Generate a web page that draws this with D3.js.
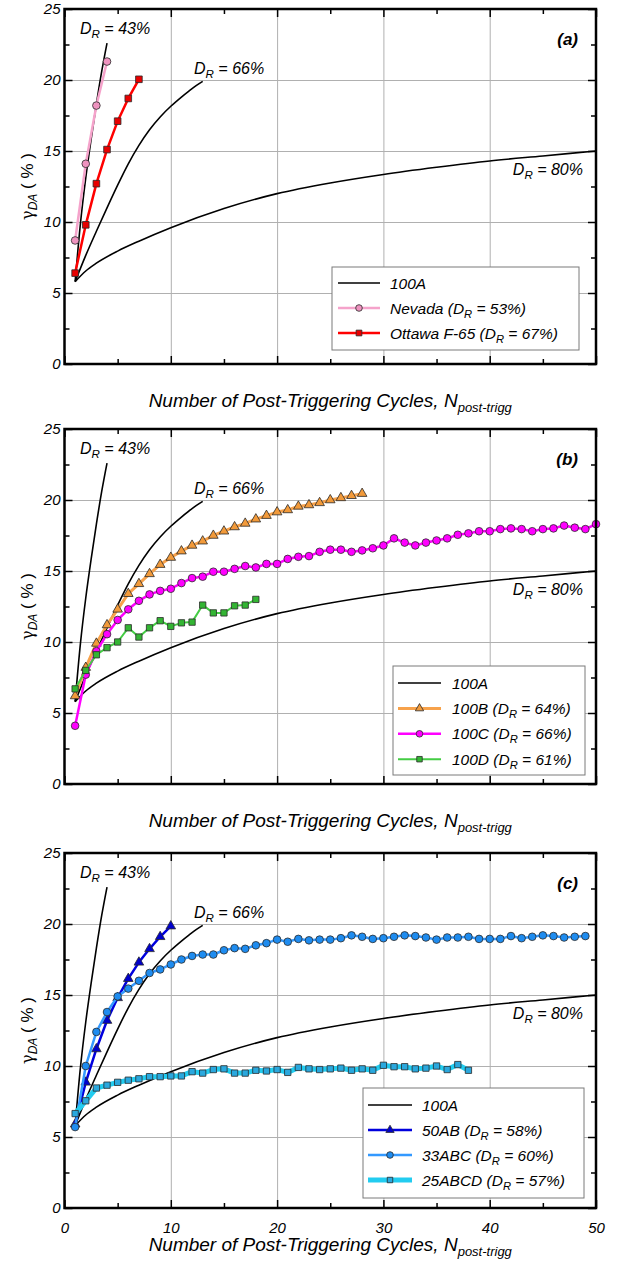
<!DOCTYPE html>
<html>
<head>
<meta charset="utf-8">
<script src="https://cdn.jsdelivr.net/npm/d3@7"></script>
<style>
  body { margin: 0; background: #fff; }
  svg { display: block; font-family: "Liberation Sans", Arial, sans-serif; }
</style>
</head>
<body>
<svg id="chart" width="618" height="1263"></svg>
<script>
// reference curves (black): cycles and gamma_DA (%)
var ref43N = [1, 1.5, 2, 2.5, 3, 3.5, 4];
var ref43G = [5.8, 9.9, 13.1, 15.8, 18.3, 20.6, 22.6];
var ref66N = [1, 2, 3, 4, 5, 6, 7, 8, 9, 10, 11, 12, 13];
var ref66G = [5.8, 7.65, 9.35, 11.0, 12.6, 14.1, 15.4, 16.5, 17.4, 18.15, 18.8, 19.4, 19.9];
var ref80N = [1, 2, 3, 5, 7, 10, 15, 20, 25, 30, 35, 40, 45, 50];
var ref80G = [5.8, 6.55, 7.1, 7.95, 8.65, 9.6, 10.95, 12.0, 12.75, 13.35, 13.85, 14.3, 14.65, 15.0];

// panel (a)
var nevadaG = [8.7, 14.1, 18.2, 21.3];
var ottawaG = [6.4, 9.8, 12.7, 15.1, 17.1, 18.7, 20.05];

// panel (b)
var g100B = [6.2, 8.2, 9.9, 11.2, 12.3, 13.4, 14.1, 14.8, 15.45, 15.95,
             16.4, 16.8, 17.1, 17.5, 17.8, 18.1, 18.35, 18.65, 18.9, 19.15,
             19.3, 19.55, 19.65, 19.8, 20.0, 20.15, 20.3, 20.45];
var g100C = [4.1, 7.7, 9.35, 10.55, 11.55, 12.3, 12.9, 13.35, 13.6, 13.75,
             14.15, 14.5, 14.6, 14.95, 14.95, 15.15, 15.35, 15.25, 15.5, 15.5,
             15.85, 16.0, 16.05, 16.35, 16.5, 16.5, 16.35, 16.45, 16.6, 16.8,
             17.3, 17.0, 16.8, 17.0, 17.15, 17.3, 17.55, 17.65, 17.8, 17.8,
             17.95, 18.0, 17.95, 17.8, 17.95, 18.0, 18.2, 18.05, 17.95, 18.3];
var g100D = [6.7, 8.0, 9.1, 9.6, 10.0, 11.0, 10.35, 11.0, 11.5, 11.1,
             11.35, 11.4, 12.6, 12.05, 12.05, 12.55, 12.6, 13.0];

// panel (c)
var g50AB = [5.9, 8.85, 11.2, 13.2, 14.8, 16.15, 17.3, 18.25, 19.1, 19.85];
var g33ABC = [5.7, 10.0, 12.4, 13.8, 14.9, 15.45, 16.0, 16.55, 16.8, 17.15,
              17.5, 17.75, 17.85, 17.85, 18.15, 18.3, 18.25, 18.5, 18.65, 18.9,
              18.75, 18.95, 18.85, 18.9, 18.9, 19.0, 19.2, 19.1, 18.95, 19.0,
              19.1, 19.2, 19.15, 19.05, 18.9, 19.05, 19.05, 19.1, 18.95, 18.95,
              18.95, 19.15, 19.0, 19.1, 19.2, 19.15, 19.05, 19.1, 19.15];
var g25ABCD = [6.65, 7.55, 8.45, 8.65, 8.85, 9.0, 9.1, 9.25, 9.25, 9.3,
               9.3, 9.6, 9.5, 9.75, 9.8, 9.5, 9.5, 9.7, 9.65, 9.75,
               9.55, 9.9, 9.8, 9.75, 9.8, 9.85, 9.7, 9.8, 9.7, 10.05,
               9.95, 9.95, 9.8, 9.85, 10.0, 9.75, 10.1, 9.7];

var xTicks = [0, 10, 20, 30, 40, 50];
var yTicks = [0, 5, 10, 15, 20, 25];

// cycle number is the position in the series (1, 2, 3, ...)
function pts(vals) { return vals.map((v, i) => [i + 1, v]); }
function refPts(ns, gs) { return ns.map((n, i) => [n, gs[i]]); }

var svg = d3.select("#chart");
var left = 64.5, right = 596, plotH = 355;
var x = d3.scaleLinear().domain([0, 50]).range([left, right]);

function sub(text, pre, s, post) {
  text.append("tspan").text(pre);
  text.append("tspan").attr("dy", 4).attr("font-size", "0.72em").text(s);
  text.append("tspan").attr("dy", -4).text(post);
  return text;
}

function drawPanel(p) {
  var top = p.top, bottom = top + plotH;
  var y = d3.scaleLinear().domain([0, 25]).range([bottom, top]);
  var g = svg.append("g");

  // grid
  g.append("g").attr("transform", "translate(0," + bottom + ")")
    .call(d3.axisBottom(x).tickValues([10, 20, 30, 40]).tickSize(-plotH).tickFormat(""))
    .call(a => a.select(".domain").remove())
    .selectAll("line").attr("stroke", "#b0b0b0").attr("stroke-width", 1);
  g.append("g").attr("transform", "translate(" + left + ",0)")
    .call(d3.axisLeft(y).tickValues([5, 10, 15, 20]).tickSize(-(right - left)).tickFormat(""))
    .call(a => a.select(".domain").remove())
    .selectAll("line").attr("stroke", "#b0b0b0").attr("stroke-width", 1);

  var line = d3.line().x(d => x(d[0])).y(d => y(d[1]));
  var smooth = d3.line().x(d => x(d[0])).y(d => y(d[1])).curve(d3.curveMonotoneX);

  // black reference curves
  [refPts(ref43N, ref43G), refPts(ref66N, ref66G), refPts(ref80N, ref80G)].forEach(c => {
    g.append("path").datum(c).attr("d", smooth)
      .attr("fill", "none").attr("stroke", "#000").attr("stroke-width", 1.6);
  });

  // series
  p.series.forEach(s => {
    var data = pts(s.values);
    g.append("path").datum(data).attr("d", line)
      .attr("fill", "none").attr("stroke", s.line).attr("stroke-width", s.width)
      .attr("stroke-linejoin", "round");
    g.append("g").selectAll("path").data(data).join("path")
      .attr("transform", d => "translate(" + x(d[0]) + "," + y(d[1]) + ")")
      .attr("d", d3.symbol().type(s.symbol).size(s.size))
      .attr("fill", s.fill).attr("stroke", "#2a2a2a").attr("stroke-width", 0.8);
  });

  // frame and inward ticks
  var minorX = [5, 15, 25, 35, 45], minorY = [2.5, 7.5, 12.5, 17.5, 22.5];
  var bx = g.append("g").attr("transform", "translate(0," + bottom + ")")
    .call(d3.axisBottom(x).tickValues(xTicks).tickSizeInner(-8).tickSizeOuter(0).tickPadding(14)
      .tickFormat(p.xLabels ? d3.format("d") : ""));
  g.append("g").attr("transform", "translate(0," + bottom + ")")
    .call(d3.axisBottom(x).tickValues(minorX).tickSizeInner(-5).tickSizeOuter(0).tickFormat(""));
  g.append("g").attr("transform", "translate(0," + top + ")")
    .call(d3.axisTop(x).tickValues(xTicks).tickSizeInner(-8).tickSizeOuter(0).tickFormat(""));
  g.append("g").attr("transform", "translate(0," + top + ")")
    .call(d3.axisTop(x).tickValues(minorX).tickSizeInner(-5).tickSizeOuter(0).tickFormat(""));
  var ly = g.append("g").attr("transform", "translate(" + left + ",0)")
    .call(d3.axisLeft(y).tickValues(yTicks).tickSizeInner(-8).tickSizeOuter(0).tickPadding(4));
  g.append("g").attr("transform", "translate(" + left + ",0)")
    .call(d3.axisLeft(y).tickValues(minorY).tickSizeInner(-5).tickSizeOuter(0).tickFormat(""));
  g.append("g").attr("transform", "translate(" + right + ",0)")
    .call(d3.axisRight(y).tickValues(yTicks).tickSizeInner(-8).tickSizeOuter(0).tickFormat(""));
  g.append("g").attr("transform", "translate(" + right + ",0)")
    .call(d3.axisRight(y).tickValues(minorY).tickSizeInner(-5).tickSizeOuter(0).tickFormat(""));
  g.selectAll(".domain").remove();
  g.selectAll(".tick line").filter(function () { return !this.getAttribute("stroke") || this.getAttribute("stroke") === "currentColor"; })
    .attr("stroke", "#000").attr("stroke-width", 1.5);
  [bx, ly].forEach(a => a.selectAll("text")
    .attr("font-family", "Liberation Sans, Arial, sans-serif")
    .attr("font-size", 15).attr("font-style", "italic").attr("fill", "#000"));
  g.append("rect").attr("x", left).attr("y", top).attr("width", right - left).attr("height", plotH)
    .attr("fill", "none").attr("stroke", "#000").attr("stroke-width", 2.5);

  // curve labels
  sub(g.append("text").attr("x", 80).attr("y", top + 25), "D", "R", " = 43%")
    .attr("font-size", 16).attr("font-style", "italic");
  sub(g.append("text").attr("x", 194).attr("y", top + 65), "D", "R", " = 66%")
    .attr("font-size", 16).attr("font-style", "italic");
  sub(g.append("text").attr("x", 583).attr("y", top + 166).attr("text-anchor", "end"), "D", "R", " = 80%")
    .attr("font-size", 16).attr("font-style", "italic");
  g.append("text").attr("x", 578).attr("y", top + 36).attr("text-anchor", "end")
    .attr("font-size", 17).attr("font-weight", "bold").attr("font-style", "italic").text(p.label);

  // axis titles
  var yl = g.append("text").attr("transform", "translate(33," + (top + plotH / 2) + ") rotate(-90)")
    .attr("text-anchor", "middle").attr("font-size", 17);
  yl.append("tspan").attr("font-family", "DejaVu Serif, serif").attr("font-size", 16).text("γ");
  yl.append("tspan").attr("dy", 4).attr("font-size", 12).attr("font-style", "italic").text("DA");
  yl.append("tspan").attr("dy", -4).text(" ( % )");
  var xl = g.append("text").attr("x", (left + right) / 2).attr("y", bottom + 43)
    .attr("text-anchor", "middle").attr("font-size", 19).attr("font-style", "italic");
  xl.append("tspan").text("Number of Post-Triggering Cycles, N");
  xl.append("tspan").attr("dy", 5).attr("font-size", 13).text("post-trigg");

  // legend
  var L = p.legend;
  var lg = g.append("g");
  lg.append("rect").attr("x", L.x).attr("y", L.y).attr("width", L.w).attr("height", L.h)
    .attr("fill", "#fff").attr("stroke", "#7a7a7a").attr("stroke-width", 1);
  var rows = [{ name: "100A", line: "#000", width: 1.6 }].concat(p.series);
  rows.forEach((r, i) => {
    var ry = L.y + L.first + i * L.step;
    lg.append("line").attr("x1", L.x1).attr("x2", L.x2).attr("y1", ry).attr("y2", ry)
      .attr("stroke", r.line).attr("stroke-width", r.width);
    if (r.symbol) {
      lg.append("path").attr("transform", "translate(" + (L.x1 + L.x2) / 2 + "," + ry + ")")
        .attr("d", d3.symbol().type(r.symbol).size(r.size * 0.75))
        .attr("fill", r.fill).attr("stroke", "#2a2a2a").attr("stroke-width", 0.8);
    }
    var t = lg.append("text").attr("x", L.tx).attr("y", ry + 5.5)
      .attr("font-size", 15.5).attr("font-style", "italic");
    if (r.dr) sub(t, r.name + " (D", "R", " = " + r.dr + ")");
    else t.text(r.name);
  });
}

drawPanel({
  top: 9, label: "(a)", xLabels: false,
  series: [
    { name: "Nevada", dr: "53%", values: nevadaG, line: "#f5a3cb", width: 2.5, symbol: d3.symbolCircle, size: 46, fill: "#ee93bf" },
    { name: "Ottawa F-65", dr: "67%", values: ottawaG, line: "#ff0000", width: 2.5, symbol: d3.symbolSquare, size: 44, fill: "#e80000" }
  ],
  legend: { x: 332, y: 267, w: 247, h: 83, first: 16, step: 25, x1: 338, x2: 380, tx: 390 }
});

drawPanel({
  top: 429, label: "(b)", xLabels: false,
  series: [
    { name: "100B", dr: "64%", values: g100B, line: "#f7a24b", width: 3, symbol: d3.symbolTriangle, size: 40, fill: "#f29a3a" },
    { name: "100C", dr: "66%", values: g100C, line: "#ff00ff", width: 2.5, symbol: d3.symbolCircle, size: 46, fill: "#ff00ff" },
    { name: "100D", dr: "61%", values: g100D, line: "#44cc44", width: 2, symbol: d3.symbolSquare, size: 40, fill: "#33b533" }
  ],
  legend: { x: 393, y: 666, w: 192, h: 109, first: 17, step: 25.4, x1: 398, x2: 441, tx: 452 }
});

drawPanel({
  top: 853, label: "(c)", xLabels: true,
  series: [
    { name: "50AB", dr: "58%", values: g50AB, line: "#0000dd", width: 2.5, symbol: d3.symbolTriangle, size: 40, fill: "#0000cc" },
    { name: "33ABC", dr: "60%", values: g33ABC, line: "#3399ff", width: 2.5, symbol: d3.symbolCircle, size: 46, fill: "#1e8cf0" },
    { name: "25ABCD", dr: "57%", values: g25ABCD, line: "#22ccf0", width: 5, symbol: d3.symbolSquare, size: 40, fill: "#2aa8de" }
  ],
  legend: { x: 363, y: 1088, w: 221, h: 110, first: 17, step: 25, x1: 368, x2: 412, tx: 422 }
});
</script>
</body>
</html>
